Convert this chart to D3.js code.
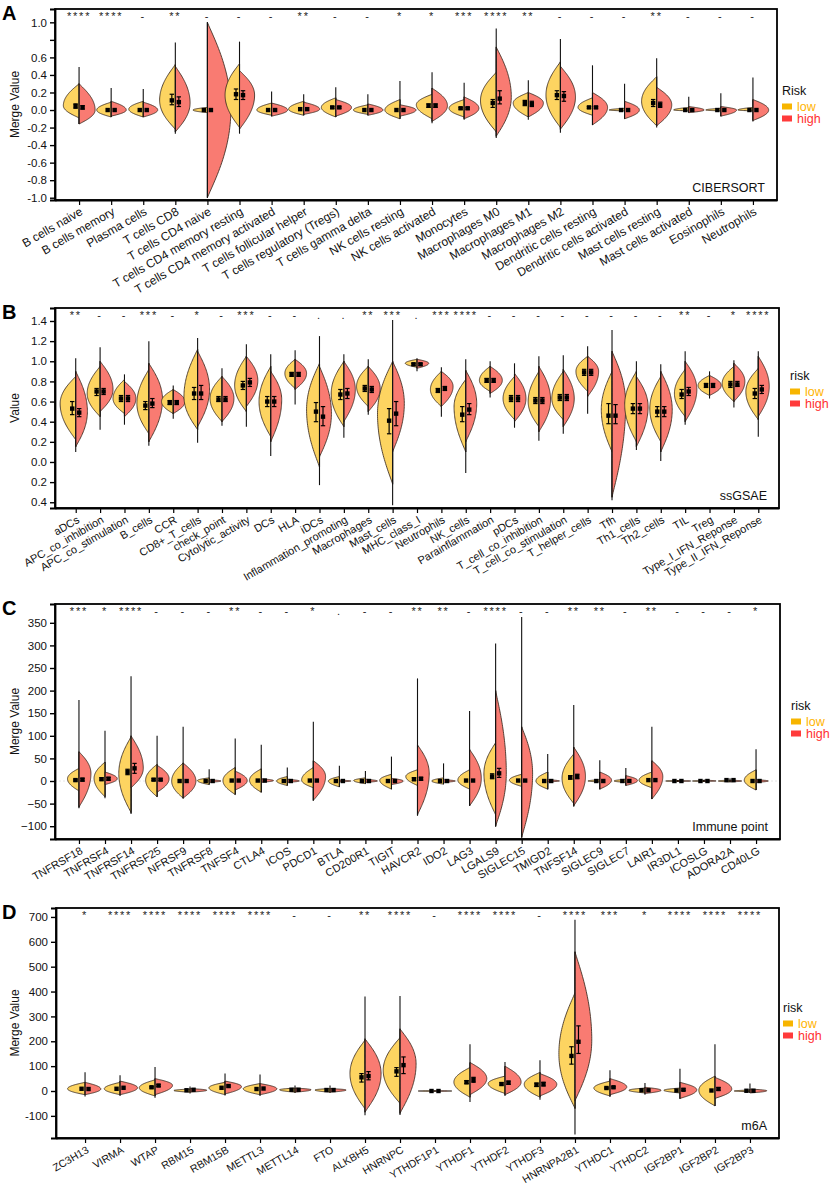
<!DOCTYPE html>
<html><head><meta charset="utf-8">
<script src="https://cdn.jsdelivr.net/npm/d3@7/dist/d3.min.js"></script>
<style>body{margin:0;background:#fff}svg{display:block;font-family:"Liberation Sans",Arial,sans-serif}</style>
</head><body><svg id="c" width="830" height="1187"></svg>
<script>
// ---------- Panel A : CIBERSORT ----------
const aCats=["B cells naive","B cells memory","Plasma cells","T cells CD8","T cells CD4 naive","T cells CD4 memory resting","T cells CD4 memory activated","T cells follicular helper","T cells regulatory (Tregs)","T cells gamma delta","NK cells resting","NK cells activated","Monocytes","Macrophages M0","Macrophages M1","Macrophages M2","Dendritic cells resting","Dendritic cells activated","Mast cells resting","Mast cells activated","Eosinophils","Neutrophils"];
const aSig=["****","****","-","**","-","-","-","**","-","-","*","*","***","****","**","-","-","-","**","-","-","-"];
// [bodyMin, mode, bodyMax, relative half-width]
const aLow=[[-0.09,0.05,0.30,0.49],[-0.08,0,0.09,0.45],[-0.08,0.01,0.10,0.45],[-0.22,0.11,0.52,0.49],[-0.03,0,0.03,0.45],[-0.20,0.17,0.53,0.45],[-0.06,0,0.08,0.46],[-0.06,0.01,0.10,0.47],[-0.08,0.03,0.14,0.45],[-0.05,0,0.06,0.45],[-0.10,0,0.12,0.47],[-0.10,0.06,0.18,0.49],[-0.08,0.02,0.12,0.47],[-0.25,0.11,0.43,0.49],[-0.08,0.08,0.20,0.47],[-0.20,0.17,0.55,0.45],[-0.06,0.03,0.14,0.45],[-0.01,0,0.02,0.48],[-0.18,0.10,0.38,0.47],[-0.01,0,0.03,0.47],[-0.01,0,0.02,0.47],[-0.01,0,0.03,0.47]];
const aHigh=[[-0.16,0,0.30,0.50],[-0.07,0,0.10,0.47],[-0.08,0,0.09,0.45],[-0.25,0.08,0.50,0.46],[-1.0,0,1.0,0.73],[-0.22,0.17,0.45,0.47],[-0.07,0,0.08,0.50],[-0.05,0.01,0.09,0.50],[-0.07,0.03,0.12,0.49],[-0.06,0,0.07,0.47],[-0.07,0,0.06,0.50],[-0.13,0.05,0.25,0.48],[-0.10,0.02,0.15,0.46],[-0.30,0.15,0.72,0.47],[-0.08,0.08,0.20,0.47],[-0.22,0.15,0.50,0.47],[-0.17,0.03,0.20,0.47],[-0.10,0,0.10,0.46],[-0.18,0.06,0.26,0.47],[-0.03,0,0.04,0.48],[-0.07,0,0.04,0.49],[-0.12,0,0.12,0.49]];
const aTails=[[-0.16,0.49],[-0.08,0.25],[-0.08,0.24],[-0.27,0.77],[-1.0,1.0],[-0.27,0.78],[-0.07,0.21],[-0.06,0.18],[-0.08,0.26],[-0.06,0.18],[-0.10,0.33],[-0.15,0.43],[-0.11,0.31],[-0.32,0.93],[-0.11,0.34],[-0.26,0.81],[-0.17,0.51],[-0.10,0.30],[-0.20,0.59],[-0.03,0.15],[-0.07,0.19],[-0.13,0.37]];
// [centre, lower, upper]
const aLowStat=[[0.045,0.02,0.07],[0,0,0],[0,0,0],[0.11,0.06,0.18],[0,0,0],[0.18,0.12,0.24],[0,0,0],[0.01,0.01,0.01],[0.03,0.02,0.04],[0,0,0],[0,0,0],[0.05,0.03,0.07],[0.02,0.01,0.03],[0.08,0.03,0.12],[0.08,0.05,0.11],[0.17,0.12,0.22],[0.03,0.02,0.04],[0,0,0],[0.08,0.04,0.12],[0,0,0],[0,0,0],[0,0,0]];
const aHighStat=[[0.03,0.01,0.05],[0,0,0],[0,0,0],[0.09,0.04,0.15],[0,0,0],[0.17,0.12,0.22],[0,0,0],[0.01,0.01,0.01],[0.03,0.02,0.04],[0,0,0],[0,0,0],[0.05,0.03,0.07],[0.02,0.01,0.03],[0.13,0.07,0.22],[0.07,0.04,0.10],[0.16,0.10,0.21],[0.03,0.02,0.04],[0,0,0],[0.06,0.03,0.09],[0,0,0],[0,0,0],[0,0,0]];
const aTicks=[-1.0,-0.8,-0.6,-0.4,-0.2,0.0,0.2,0.4,0.6,0.8,1.0];
const aTickLabels=["-1.0","-0.8","-0.6","-0.4","-0.2","0.0","0.2","0.4","0.6","","1.0"];

// ---------- Panel B : ssGSAE ----------
const bCats=["aDCs","APC_co_inhibition","APC_co_stimulation","B_cells","CCR","CD8+_T_cells","check_point","Cytolytic_activity","DCs","HLA","iDCs","Inflammation_promoting","Macrophages","Mast_cells","MHC_class_I","Neutrophils","NK_cells","Parainflammation","pDCs","T_cell_co_inhibition","T_cell_co_stimulation","T_helper_cells","Tfh","Th1_cells","Th2_cells","TIL","Treg","Type_I_IFN_Reponse","Type_II_IFN_Reponse"];
const bSig=["**","-","-","***","-","*","-","***","-","-",".",".","**","***",".","***","****","-","-","-","-","-","-","-","-","**","-","*","****"];
const bLow=[[0.22,0.58,0.85,0.64],[0.45,0.68,0.95,0.53],[0.48,0.63,0.82,0.47],[0.28,0.58,0.92,0.49],[0.48,0.60,0.72,0.48],[0.32,0.65,1.12,0.56],[0.40,0.63,0.85,0.49],[0.50,0.76,1.05,0.48],[0.25,0.60,0.95,0.48],[0.73,0.88,1.02,0.42],[-0.05,0.52,0.98,0.53],[0.35,0.68,1.00,0.52],[0.55,0.75,0.95,0.48],[-0.22,0.48,1.00,0.62],[0.94,0.98,1.02,0.48],[0.55,0.72,0.90,0.45],[0.10,0.55,0.82,0.48],[0.70,0.81,0.95,0.44],[0.42,0.63,0.85,0.47],[0.35,0.60,0.90,0.44],[0.42,0.63,0.90,0.47],[0.70,0.90,1.05,0.48],[0.10,0.52,0.90,0.44],[0.20,0.57,0.90,0.48],[0.20,0.53,0.85,0.45],[0.45,0.68,0.92,0.44],[0.66,0.76,0.86,0.47],[0.60,0.78,0.95,0.48],[0.42,0.70,0.93,0.51]];
const bHigh=[[0.15,0.50,0.90,0.48],[0.50,0.72,1.00,0.53],[0.45,0.63,0.80,0.47],[0.20,0.62,0.98,0.56],[0.48,0.60,0.72,0.48],[0.35,0.72,1.10,0.49],[0.40,0.63,0.85,0.49],[0.55,0.81,1.05,0.47],[0.20,0.62,0.90,0.45],[0.72,0.88,1.02,0.47],[0.05,0.48,0.95,0.49],[0.40,0.72,1.00,0.47],[0.50,0.73,0.95,0.49],[0.10,0.58,1.00,0.48],[0.93,0.98,1.02,0.48],[0.55,0.75,0.90,0.48],[0.20,0.58,0.91,0.45],[0.68,0.81,0.95,0.50],[0.40,0.63,0.88,0.47],[0.30,0.62,0.95,0.48],[0.35,0.63,0.92,0.45],[0.65,0.90,1.05,0.45],[-0.35,0.58,1.10,0.56],[0.15,0.55,0.85,0.48],[0.10,0.52,0.90,0.47],[0.40,0.72,1.00,0.48],[0.66,0.76,0.86,0.48],[0.60,0.80,0.98,0.45],[0.45,0.75,1.05,0.45]];
const bTails=[[0.10,1.03],[0.32,1.14],[0.37,0.87],[0.16,1.20],[0.43,0.76],[0.19,1.23],[0.36,0.93],[0.35,1.17],[0.06,1.07],[0.57,1.11],[-0.23,1.25],[0.24,1.07],[0.47,1.02],[-0.43,1.41],[0.90,1.03],[0.45,0.94],[-0.11,1.02],[0.64,1.00],[0.34,0.98],[0.21,1.05],[0.28,1.06],[0.48,1.15],[-0.38,1.31],[0.12,1.00],[0.01,0.97],[0.37,1.10],[0.63,0.90],[0.54,1.01],[0.25,1.10]];
const bLowStat=[[0.53,0.47,0.60],[0.70,0.66,0.73],[0.63,0.60,0.66],[0.56,0.52,0.60],[0.59,0.57,0.61],[0.68,0.62,0.74],[0.62,0.60,0.65],[0.76,0.72,0.80],[0.60,0.55,0.65],[0.87,0.85,0.89],[0.50,0.40,0.59],[0.67,0.62,0.72],[0.73,0.70,0.76],[0.41,0.28,0.53],[0.97,0.96,0.98],[0.71,0.69,0.73],[0.47,0.40,0.55],[0.81,0.79,0.83],[0.63,0.60,0.66],[0.61,0.58,0.64],[0.64,0.61,0.67],[0.89,0.86,0.92],[0.46,0.38,0.58],[0.53,0.48,0.58],[0.50,0.45,0.55],[0.67,0.63,0.72],[0.76,0.74,0.78],[0.77,0.74,0.80],[0.68,0.63,0.73]];
const bHighStat=[[0.49,0.45,0.53],[0.70,0.67,0.73],[0.63,0.60,0.66],[0.58,0.54,0.63],[0.59,0.57,0.61],[0.68,0.62,0.76],[0.62,0.60,0.65],[0.79,0.75,0.83],[0.60,0.55,0.65],[0.87,0.85,0.89],[0.45,0.36,0.55],[0.68,0.63,0.73],[0.72,0.69,0.75],[0.48,0.36,0.60],[0.97,0.96,0.98],[0.73,0.71,0.75],[0.52,0.47,0.58],[0.81,0.79,0.83],[0.63,0.60,0.66],[0.61,0.58,0.64],[0.64,0.61,0.67],[0.89,0.86,0.92],[0.46,0.38,0.57],[0.53,0.48,0.58],[0.50,0.45,0.55],[0.70,0.66,0.74],[0.76,0.74,0.78],[0.77,0.75,0.80],[0.72,0.68,0.76]];
const bTicks=[-0.4,-0.2,0.0,0.2,0.4,0.6,0.8,1.0,1.2,1.4];
const bTickLabels=["0.4","0.2","0.0","0.2","0.4","0.6","0.8","1.0","1.2","1.4"];

// ---------- Panel C : Immune point ----------
const cCats=["TNFRSF18","TNFRSF4","TNFRSF14","TNFRSF25","NFRSF9","TNFRSF8","TNFSF4","CTLA4","ICOS","PDCD1","BTLA","CD200R1","TIGIT","HAVCR2","IDO2","LAG3","LGALS9","SIGLEC15","TMIGD2","TNFSF14","SIGLEC9","SIGLEC7","LAIR1","IR3DL1","ICOSLG","ADORA2A","CD40LG"];
const cSig=["***","*","****","-","-","-","**","-","-","*",".","-","-","**","**","-","****","-","-","**","**","-","**","-","-","-","*"];
const cLow=[[-22,5,28,0.44],[-35,6,42,0.42],[-70,17,98,0.47],[-35,2,37,0.44],[-38,0,40,0.44],[-8,1,7,0.45],[-30,1,30,0.47],[-25,2,27,0.45],[-10,0,10,0.41],[-15,2,30,0.45],[-13,0,10,0.42],[-6,1,7,0.45],[-18,2,15,0.45],[-10,10,25,0.45],[-7,0,7,0.45],[-18,2,25,0.45],[-75,17,85,0.45],[-12,2,15,0.47],[-18,0,20,0.45],[-50,6,60,0.45],[-2,0,3,0.45],[-3,0,4,0.45],[-15,2,20,0.49],[-1,0,1,0.47],[-1,0,1,0.44],[-2,0,2,0.45],[-20,2,25,0.45]];
const cHigh=[[-58,17,65,0.46],[-8,5,20,0.47],[-15,28,100,0.47],[-25,5,35,0.46],[-38,0,40,0.49],[-3,0,3,0.45],[-20,1,22,0.46],[-3,1,5,0.47],[-3,0,4,0.46],[-43,10,45,0.47],[-2,0,2,0.44],[-3,0,4,0.46],[-8,0,6,0.45],[-75,17,80,0.45],[-3,0,3,0.45],[-55,6,70,0.45],[-100,17,200,0.41],[-125,17,120,0.42],[-2,0,3,0.45],[-55,10,75,0.45],[-18,2,20,0.45],[-10,1,12,0.45],[-40,10,45,0.42],[-1,0,1,0.49],[-1,0,2,0.46],[-2,0,2,0.45],[-3,0,3,0.47]];
const cTails=[[-60,179],[-38,111],[-73,232],[-35,100],[-38,120],[-8,26],[-30,94],[-25,80],[-10,30],[-43,131],[-13,34],[-6,22],[-18,54],[-77,227],[-7,39],[-55,155],[-101,304],[-125,363],[-18,60],[-57,168],[-18,46],[-10,29],[-40,120],[-2,2],[-2,3],[-3,6],[-20,70]];
const cLowStat=[[2,0,4],[4,2,7],[20,14,26],[3,1,5],[0,0,0],[0,0,0],[1,1,1],[1,1,1],[0,0,0],[1,1,1],[0,0,0],[0,0,0],[0,0,0],[4,1,7],[0,0,0],[1,1,1],[10,5,16],[1,1,1],[0,0,0],[8,4,12],[0,0,0],[0,0,0],[2,2,2],[0,0,0],[0,0,0],[2,2,2],[0,0,0]];
const cHighStat=[[3,0,6],[5,2,8],[28,17,39],[3,1,5],[0,0,0],[0,0,0],[1,1,1],[1,1,1],[0,0,0],[1,1,1],[0,0,0],[0,0,0],[0,0,0],[5,2,8],[0,0,0],[1,1,1],[17,8,28],[1,1,1],[0,0,0],[10,5,15],[0,0,0],[0,0,0],[2,2,2],[0,0,0],[0,0,0],[2,2,2],[0,0,0]];
const cTicks=[-100,-50,0,50,100,150,200,250,300,350];
const cTickLabels=["\u2212100","\u221250","0","50","100","150","200","250","300","350"];

// ---------- Panel D : m6A ----------
const dCats=["ZC3H13","VIRMA","WTAP","RBM15","RBM15B","METTL3","METTL14","FTO","ALKBH5","HNRNPC","YTHDF1P1","YTHDF1","YTHDF2","YTHDF3","HNRNPA2B1","YTHDC1","YTHDC2","IGF2BP1","IGF2BP2","IGF2BP3"];
const dSig=["*","****","****","****","****","****","-","-","**","****","-","****","****","-","****","***","*","****","****","****"];
const dLow=[[-15,9,35,0.50],[-15,9,35,0.45],[-20,13,45,0.45],[-5,2,8,0.46],[-15,13,35,0.46],[-15,9,30,0.48],[-5,5,12,0.44],[-5,4,10,0.43],[-72,70,205,0.43],[-50,83,215,0.48],[-1,0,1,0.48],[-25,36,95,0.46],[-10,30,60,0.48],[-25,27,75,0.45],[-70,150,395,0.46],[-20,12,40,0.46],[-8,3,12,0.46],[-8,3,12,0.46],[-60,3,60,0.46],[-3,0,4,0.45]];
const dHigh=[[-15,8,35,0.45],[-15,13,40,0.50],[-15,23,50,0.50],[-5,3,10,0.48],[-12,18,40,0.47],[-15,9,30,0.48],[-5,5,12,0.46],[-5,4,10,0.46],[-85,70,210,0.46],[-90,110,250,0.46],[-1,0,1,0.48],[-15,50,115,0.48],[-15,36,100,0.46],[-20,27,70,0.48],[-40,205,560,0.48],[-15,16,50,0.48],[-10,3,15,0.46],[-30,5,35,0.48],[-30,8,55,0.48],[-8,1,8,0.48]];
const dTails=[[-22,75],[-20,63],[-27,97],[-10,18],[-18,70],[-20,66],[-8,22],[-8,22],[-98,380],[-97,382],[-1,1],[-44,188],[-20,117],[-35,124],[-175,689],[-24,83],[-15,32],[-32,90],[-60,188],[-8,30]];
const dLowStat=[[9,9,9],[9,9,9],[15,12,18],[3,3,3],[13,13,13],[8,8,8],[5,5,5],[4,4,4],[55,36,70],[79,59,94],[0,0,0],[35,30,42],[28,24,33],[25,18,32],[141,108,178],[12,9,15],[3,3,3],[2,2,2],[2,2,2],[1,1,1]];
const dHighStat=[[8,8,8],[13,13,13],[22,18,26],[5,5,5],[20,16,24],[10,10,10],[5,5,5],[4,4,4],[60,45,78],[104,70,137],[0,0,0],[45,35,55],[33,27,40],[28,20,35],[198,151,262],[15,12,18],[3,3,3],[5,2,9],[8,3,14],[1,1,1]];
const dTicks=[-100,0,100,200,300,400,500,600,700];
const dTickLabels=["-100","0","100","200","300","400","500","600","700"];

const groups=["low","high"];

// ---------- layout ----------
const panels=[
 {letter:"A",cats:aCats,sig:aSig,low:aLow,high:aHigh,tails:aTails,ls:aLowStat,hs:aHighStat,ticks:aTicks,tl:aTickLabels,
  dom:[-1.026,1.152],l:55,r:777,t:9,b:200,pad:0.75,ytitle:"Merge Value",lt:"Risk",lx:782,ly:95,note:"CIBERSORT",zero:false,xf:12},
 {letter:"B",cats:bCats,sig:bSig,low:bLow,high:bHigh,tails:bTails,ls:bLowStat,hs:bHighStat,ticks:bTicks,tl:bTickLabels,
  dom:[-0.457,1.529],l:55,r:779,t:308,b:508,pad:0.85,ytitle:"Value",lt:"risk",lx:790,ly:380,note:"ssGSAE",zero:false,xf:11},
 {letter:"C",cats:cCats,sig:cSig,low:cLow,high:cHigh,tails:cTails,ls:cLowStat,hs:cHighStat,ticks:cTicks,tl:cTickLabels,
  dom:[-128.3,391.6],l:55,r:780,t:604,b:839,pad:0.92,ytitle:"Merge Value",lt:"risk",lx:791,ly:710,note:"Immune point",zero:true,xf:11},
 {letter:"D",cats:dCats,sig:dSig,low:dLow,high:dHigh,tails:dTails,ls:dLowStat,hs:dHighStat,ticks:dTicks,tl:dTickLabels,
  dom:[-189,736],l:56,r:779,t:908,b:1138,pad:0.83,ytitle:"Merge Value",lt:"risk",lx:783,ly:1012,note:"m6A",zero:false,xf:10.6}
];

const fillC={low:"#FDD461",high:"#F97B72"};
const legC={low:"#F7B500",high:"#FF3B3B"};
const legT={low:"#FFB400",high:"#FF3030"};
const svg=d3.select("#c");

function profile(t){ const u=1-t*t; return u<=0?0:Math.pow(u,1.1); }

panels.forEach(p=>{
  const g=svg.append("g");
  const x=d3.scalePoint().domain(p.cats).range([p.l,p.r]).padding(p.pad);
  const y=d3.scaleLinear().domain(p.dom).range([p.b,p.t]);
  const step=x.step();

  if(p.zero){
    g.append("line").attr("x1",p.l).attr("x2",p.r).attr("y1",y(0)).attr("y2",y(0))
     .attr("stroke","#ddd").attr("stroke-width",0.8).attr("stroke-dasharray","2,2");
  }

  p.cats.forEach((c,i)=>{
    const cx=x(c);
    g.append("line").attr("x1",cx).attr("x2",cx).attr("y1",y(p.tails[i][0])).attr("y2",y(p.tails[i][1]))
     .attr("stroke","#111").attr("stroke-width",1.1);
    groups.forEach(gr=>{
      const [b0,m,b1,w]=(gr==="low"?p.low:p.high)[i];
      const dir=gr==="low"?-1:1;
      const pts=d3.range(0,61).map(k=>{
        const v=b0+(b1-b0)*k/60;
        const t=v>=m?(b1>m?(v-m)/(b1-m):1):(m>b0?(m-v)/(m-b0):1);
        return {v:v,w:w*step*profile(t)};
      });
      const area=d3.area().y(d=>y(d.v)).x0(cx).x1(d=>cx+dir*d.w).curve(d3.curveBasis);
      g.append("path").attr("d",area(pts)).attr("fill",fillC[gr])
       .attr("stroke","#3a2a20").attr("stroke-width",0.85);
    });
    const lo=Math.min(p.low[i][0],p.high[i][0]), hi=Math.max(p.low[i][2],p.high[i][2]);
    g.append("line").attr("x1",cx).attr("x2",cx).attr("y1",y(lo)).attr("y2",y(hi))
     .attr("stroke","#111").attr("stroke-width",1.1);
    groups.forEach(gr=>{
      const [m,l0,h0]=(gr==="low"?p.ls:p.hs)[i];
      const sx=cx+(gr==="low"?-3.5:3.5);
      if(h0>l0){
        g.append("line").attr("x1",sx).attr("x2",sx).attr("y1",y(l0)).attr("y2",y(h0)).attr("stroke","#000").attr("stroke-width",1.2);
        [l0,h0].forEach(v=>g.append("line").attr("x1",sx-2.2).attr("x2",sx+2.2).attr("y1",y(v)).attr("y2",y(v)).attr("stroke","#000").attr("stroke-width",1.2));
      }
      g.append("rect").attr("x",sx-2.2).attr("y",y(m)-2.2).attr("width",4.4).attr("height",4.4).attr("fill","#000");
    });
    g.append("text").attr("x",cx).attr("y",p.t+11).attr("text-anchor","middle")
     .attr("font-size",11).attr("letter-spacing",1.8).attr("fill","#222").text(p.sig[i]);
  });

  g.append("rect").attr("x",p.l).attr("y",p.t).attr("width",p.r-p.l).attr("height",p.b-p.t)
   .attr("fill","none").attr("stroke","#000").attr("stroke-width",1.8);

  const ya=d3.axisLeft(y).tickValues(p.ticks).tickSize(5).tickFormat((d,i)=>p.tl[i]);
  const yg=g.append("g").attr("transform",`translate(${p.l},0)`).call(ya);
  yg.select(".domain").attr("stroke-width",1.8);
  yg.selectAll(".tick line").attr("stroke-width",1.4);
  yg.selectAll("text").attr("font-size",11.5).attr("fill","#111").attr("font-family","Liberation Sans, Arial, sans-serif");

  const xa=d3.axisBottom(x).tickSize(5).tickSizeOuter(0);
  const xg=g.append("g").attr("transform",`translate(0,${p.b})`).call(xa);
  xg.select(".domain").attr("stroke-width",1.8);
  xg.selectAll(".tick line").attr("stroke-width",1.2);
  xg.selectAll("text").attr("font-size",p.xf).attr("fill","#111").attr("font-family","Liberation Sans, Arial, sans-serif")
    .attr("text-anchor","end").attr("dy",0).attr("y",0)
    .attr("transform","translate(4,14) rotate(-30)");

  g.append("text").attr("transform",`translate(19,${(p.t+p.b)/2}) rotate(-90)`).attr("text-anchor","middle")
   .attr("font-size",12).attr("fill","#111").text(p.ytitle);
  g.append("text").attr("x",2).attr("y",p.t+11).attr("font-size",20).attr("font-weight","bold").text(p.letter);
  g.append("text").attr("x",p.r-12).attr("y",p.b-8).attr("text-anchor","end").attr("font-size",12.5).attr("fill","#111").text(p.note);
  g.append("text").attr("x",p.lx).attr("y",p.ly).attr("font-size",12.5).attr("fill","#111").text(p.lt);
  groups.forEach((gr,k)=>{
    const cy=p.ly+11.5+k*12;
    g.append("rect").attr("x",p.lx).attr("y",cy-3).attr("width",10).attr("height",6).attr("fill",legC[gr]);
    g.append("text").attr("x",p.lx+15).attr("y",cy+4.5).attr("font-size",12.5).attr("fill",legT[gr]).text(gr);
  });
});
</script></body></html>
